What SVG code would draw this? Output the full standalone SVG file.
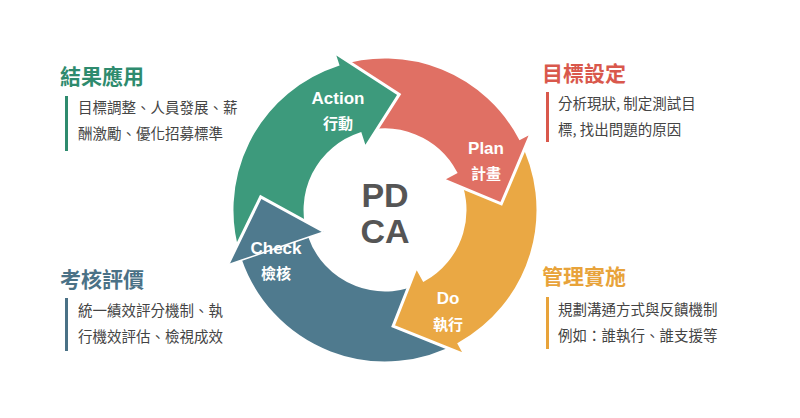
<svg xmlns="http://www.w3.org/2000/svg" width="800" height="418" viewBox="0 0 800 418">
<style>
.seg{stroke:#fff;stroke-width:3;stroke-linejoin:miter}
.lbl{font-family:"Liberation Sans","Noto Sans CJK TC",sans-serif;font-weight:bold;fill:#fff;text-anchor:middle}
.t{font-family:"Noto Sans CJK TC",sans-serif;font-weight:bold;font-size:21px}
.b{font-family:"Noto Sans CJK TC",sans-serif;font-size:14.5px;fill:#444}
</style>
<rect width="800" height="418" fill="#fff"/>
<g id="connectors">
<path class="seg" fill="#4f7a8e" d="M459.2,343.8 A153,153 0 0 1 240.3,259.8 L228,264 L260.7,196.9 L323.5,231.2 L309.4,236 A80,80 0 0 0 423.8,280 Z"/>
<path class="seg" fill="#eaa844" d="M520.1,138.2 A153,153 0 0 1 459.2,343.8 L465.5,355.2 L393.1,326.2 L416.5,266.8 L423.8,280 A80,80 0 0 0 455.6,172.4 Z"/>
<path class="seg" fill="#e07064" d="M337.7,64.5 A153,153 0 0 1 520.1,138.2 L531.6,132.1 L501.3,203.9 L442.4,179.5 L455.6,172.4 A80,80 0 0 0 360.3,133.9 Z"/>
<path class="seg" fill="#3d9a7c" d="M240.3,259.8 A153,153 0 0 1 337.7,64.5 L333.7,52.1 L399.2,94.4 L364.9,148.2 L360.3,133.9 A80,80 0 0 0 309.4,236 Z"/>
<path fill="#4f7a8e" d="M240.3,259.8 L228,264 L260.7,196.9 L323.5,231.2 L309.4,236 Z"/>
<path fill="none" stroke="#fff" stroke-width="3" d="M228,264 L260.7,196.9 L323.5,231.2"/>
</g>
<g id="action"><text class="lbl" x="338" y="104" font-size="17">Action</text><text class="lbl" x="338" y="129" font-size="15">行動</text></g>
<g id="plan"><text class="lbl" x="486" y="154" font-size="17">Plan</text><text class="lbl" x="486" y="179" font-size="15">計畫</text></g>
<g id="do"><text class="lbl" x="448" y="304" font-size="17">Do</text><text class="lbl" x="448" y="330" font-size="15">執行</text></g>
<g id="check"><text class="lbl" x="276" y="254" font-size="17">Check</text><text class="lbl" x="276" y="279" font-size="15">檢核</text></g>
<g id="pdca" font-family="Liberation Sans,sans-serif" font-weight="bold" font-size="34" fill="#555" text-anchor="middle"><text x="385" y="207">PD</text><text x="385" y="243">CA</text></g>
<g id="result">
<text class="t" x="60" y="84" fill="#2e8b6e">結果應用</text>
<rect x="65" y="96" width="3" height="55" fill="#2e8b6e"/>
<text class="b" x="78" y="113">目標調整、人員發展、薪</text>
<text class="b" x="78" y="139">酬激勵、優化招募標準</text>
</g>
<g id="review">
<text class="t" x="60" y="287" fill="#4a7186">考核評價</text>
<rect x="65" y="298" width="3" height="53" fill="#4a7186"/>
<text class="b" x="78" y="316">統一績效評分機制、執</text>
<text class="b" x="78" y="342">行機效評估、檢視成效</text>
</g>
<g id="goal">
<text class="t" x="542" y="81" fill="#d9584c">目標設定</text>
<rect x="546" y="92" width="3" height="50" fill="#d9584c"/>
<text class="b" x="558" y="109">分析現狀, 制定測試目</text>
<text class="b" x="558" y="135">標, 找出問題的原因</text>
</g>
<g id="manage">
<text class="t" x="542" y="284" fill="#e8a33a">管理實施</text>
<rect x="546" y="297" width="3" height="52" fill="#e8a33a"/>
<text class="b" x="558" y="315">規劃溝通方式與反饋機制</text>
<text class="b" x="558" y="341">例如：誰執行、誰支援等</text>
</g>
</svg>
